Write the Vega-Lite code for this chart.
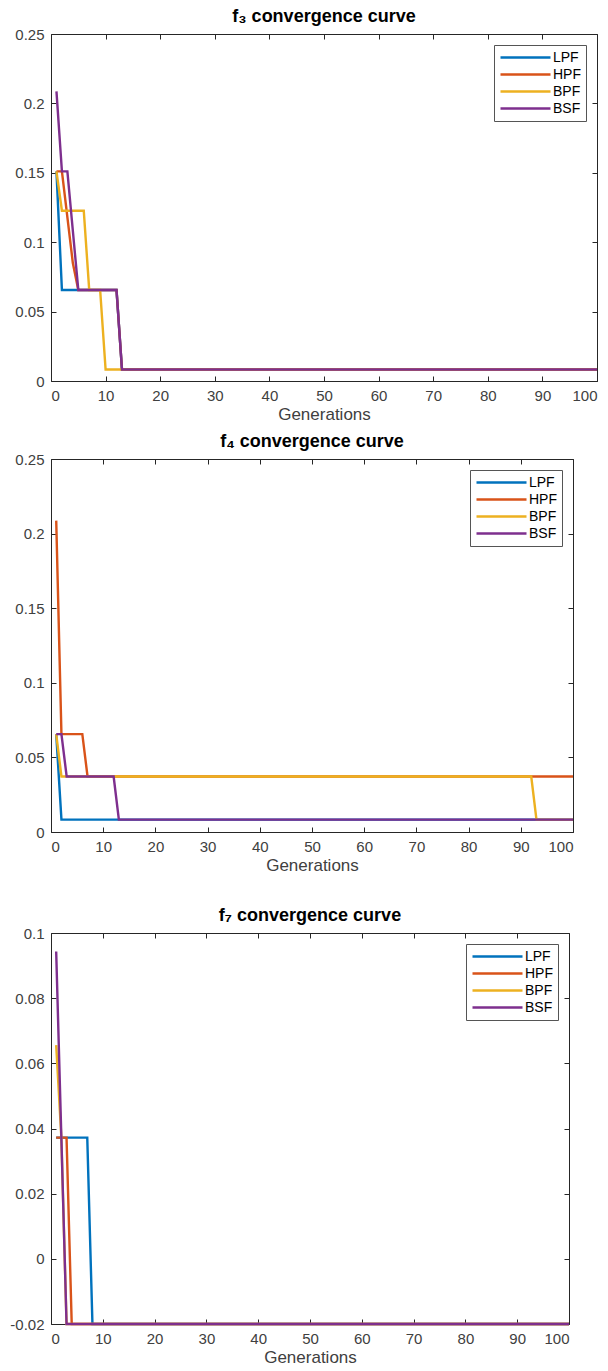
{
  "$schema": "https://vega.github.io/schema/vega-lite/v6.json",
  "padding": {"left": 9, "top": 7, "right": 5, "bottom": 0},
  "background": "white",
  "config": {
    "font": "Liberation Sans",
    "view": {"stroke": "#262626", "strokeWidth": 1},
    "axis": {"grid": false, "domain": false, "tickColor": "#262626", "tickSize": -5, "labelFont": "Liberation Sans", "labelFontSize": 15, "labelColor": "#404040", "labelPadding": 12, "titleFont": "Liberation Sans", "titleFontSize": 17, "titleFontWeight": "normal", "titleColor": "#404040", "titlePadding": 3},
    "axisY": {"minExtent": 40, "maxExtent": 40},
    "title": {"font": "Liberation Sans", "fontSize": 18, "fontWeight": "bold", "color": "#000000", "frame": "group", "offset": 1, "anchor": "middle"},
    "legend": {"orient": "top-right", "offset": 11, "strokeColor": "#555555", "fillColor": "white", "padding": 5, "symbolType": "stroke", "symbolSize": 2500, "symbolStrokeWidth": 2.5, "clipHeight": 15, "rowPadding": 2, "labelOffset": 1, "labelFont": "Liberation Sans", "labelFontSize": 14, "labelColor": "#000000", "title": null},
    "line": {"strokeWidth": 2.4}
  },
  "spacing": 32,
  "resolve": {"legend": {"color": "independent"}},
  "vconcat": [
    {
      "spacing": 9,
      "resolve": {"legend": {"color": "independent"}},
      "vconcat": [
        {
          "title": "f₃ convergence curve",
          "width": 546,
          "height": 347,
          "data": {"values": [
            {"gen": 1, "fitness": 0.151, "filter": "LPF"},
            {"gen": 2, "fitness": 0.0656, "filter": "LPF"},
            {"gen": 12, "fitness": 0.0656, "filter": "LPF"},
            {"gen": 13, "fitness": 0.0083, "filter": "LPF"},
            {"gen": 100, "fitness": 0.0083, "filter": "LPF"},
            {"gen": 1, "fitness": 0.151, "filter": "HPF"},
            {"gen": 2, "fitness": 0.151, "filter": "HPF"},
            {"gen": 4, "fitness": 0.085, "filter": "HPF"},
            {"gen": 5, "fitness": 0.0656, "filter": "HPF"},
            {"gen": 12, "fitness": 0.0656, "filter": "HPF"},
            {"gen": 13, "fitness": 0.0083, "filter": "HPF"},
            {"gen": 100, "fitness": 0.0083, "filter": "HPF"},
            {"gen": 1, "fitness": 0.151, "filter": "BPF"},
            {"gen": 2, "fitness": 0.1227, "filter": "BPF"},
            {"gen": 6, "fitness": 0.1227, "filter": "BPF"},
            {"gen": 7, "fitness": 0.0656, "filter": "BPF"},
            {"gen": 9, "fitness": 0.0656, "filter": "BPF"},
            {"gen": 10, "fitness": 0.0083, "filter": "BPF"},
            {"gen": 100, "fitness": 0.0083, "filter": "BPF"},
            {"gen": 1, "fitness": 0.2087, "filter": "BSF"},
            {"gen": 2, "fitness": 0.151, "filter": "BSF"},
            {"gen": 3, "fitness": 0.151, "filter": "BSF"},
            {"gen": 5, "fitness": 0.0656, "filter": "BSF"},
            {"gen": 12, "fitness": 0.0656, "filter": "BSF"},
            {"gen": 13, "fitness": 0.0083, "filter": "BSF"},
            {"gen": 100, "fitness": 0.0083, "filter": "BSF"}
          ]},
          "resolve": {"axis": {"x": "independent", "y": "independent"}},
          "layer": [
            {
              "mark": {"type": "line"},
              "encoding": {
                "x": {"field": "gen", "type": "quantitative", "scale": {"domain": [0, 100], "nice": false}, "axis": {"values": [0, 10, 20, 30, 40, 50, 60, 70, 80, 90, 100], "title": "Generations"}},
                "y": {"field": "fitness", "type": "quantitative", "scale": {"domain": [0, 0.25], "nice": false, "zero": false}, "axis": {"values": [0, 0.05, 0.1, 0.15, 0.2, 0.25], "title": null, "labelExpr": "'' + datum.value"}},
                "color": {"field": "filter", "type": "nominal", "sort": ["LPF", "HPF", "BPF", "BSF"], "scale": {"domain": ["LPF", "HPF", "BPF", "BSF"], "range": ["#0072BD", "#D95319", "#EDB120", "#7E2F8E"]}}
              }
            },
            {
              "mark": {"type": "line", "opacity": 0},
              "encoding": {
                "x": {"field": "gen", "type": "quantitative", "axis": {"orient": "top", "values": [0, 10, 20, 30, 40, 50, 60, 70, 80, 90, 100], "labels": false, "title": null, "minExtent": 0, "maxExtent": 0}},
                "y": {"field": "fitness", "type": "quantitative", "axis": {"orient": "right", "values": [0, 0.05, 0.1, 0.15, 0.2, 0.25], "labels": false, "title": null, "minExtent": 0, "maxExtent": 0}}
              }
            }
          ]
        },
        {
          "title": "f₄ convergence curve",
          "width": 522,
          "height": 373,
          "data": {"values": [
            {"gen": 1, "fitness": 0.0656, "filter": "LPF"},
            {"gen": 2, "fitness": 0.0083, "filter": "LPF"},
            {"gen": 100, "fitness": 0.0083, "filter": "LPF"},
            {"gen": 1, "fitness": 0.2087, "filter": "HPF"},
            {"gen": 2, "fitness": 0.0656, "filter": "HPF"},
            {"gen": 6, "fitness": 0.0656, "filter": "HPF"},
            {"gen": 7, "fitness": 0.0372, "filter": "HPF"},
            {"gen": 100, "fitness": 0.0372, "filter": "HPF"},
            {"gen": 1, "fitness": 0.0656, "filter": "BPF"},
            {"gen": 2, "fitness": 0.0372, "filter": "BPF"},
            {"gen": 92, "fitness": 0.0372, "filter": "BPF"},
            {"gen": 93, "fitness": 0.0083, "filter": "BPF"},
            {"gen": 100, "fitness": 0.0083, "filter": "BPF"},
            {"gen": 1, "fitness": 0.0656, "filter": "BSF"},
            {"gen": 2, "fitness": 0.0656, "filter": "BSF"},
            {"gen": 3, "fitness": 0.0372, "filter": "BSF"},
            {"gen": 12, "fitness": 0.0372, "filter": "BSF"},
            {"gen": 13, "fitness": 0.0083, "filter": "BSF"},
            {"gen": 100, "fitness": 0.0083, "filter": "BSF"}
          ]},
          "resolve": {"axis": {"x": "independent", "y": "independent"}},
          "layer": [
            {
              "mark": {"type": "line"},
              "encoding": {
                "x": {"field": "gen", "type": "quantitative", "scale": {"domain": [0, 100], "nice": false}, "axis": {"values": [0, 10, 20, 30, 40, 50, 60, 70, 80, 90, 100], "title": "Generations"}},
                "y": {"field": "fitness", "type": "quantitative", "scale": {"domain": [0, 0.25], "nice": false, "zero": false}, "axis": {"values": [0, 0.05, 0.1, 0.15, 0.2, 0.25], "title": null, "labelExpr": "'' + datum.value"}},
                "color": {"field": "filter", "type": "nominal", "sort": ["LPF", "HPF", "BPF", "BSF"], "scale": {"domain": ["LPF", "HPF", "BPF", "BSF"], "range": ["#0072BD", "#D95319", "#EDB120", "#7E2F8E"]}}
              }
            },
            {
              "mark": {"type": "line", "opacity": 0},
              "encoding": {
                "x": {"field": "gen", "type": "quantitative", "axis": {"orient": "top", "values": [0, 10, 20, 30, 40, 50, 60, 70, 80, 90, 100], "labels": false, "title": null, "minExtent": 0, "maxExtent": 0}},
                "y": {"field": "fitness", "type": "quantitative", "axis": {"orient": "right", "values": [0, 0.05, 0.1, 0.15, 0.2, 0.25], "labels": false, "title": null, "minExtent": 0, "maxExtent": 0}}
              }
            }
          ]
        }
      ]
    },
    {
      "title": "f₇ convergence curve",
      "width": 518,
      "height": 391,
      "data": {"values": [
        {"gen": 1, "fitness": 0.0372, "filter": "LPF"},
        {"gen": 7, "fitness": 0.0372, "filter": "LPF"},
        {"gen": 8, "fitness": -0.02, "filter": "LPF"},
        {"gen": 100, "fitness": -0.02, "filter": "LPF"},
        {"gen": 1, "fitness": 0.0372, "filter": "HPF"},
        {"gen": 3, "fitness": 0.0372, "filter": "HPF"},
        {"gen": 4, "fitness": -0.02, "filter": "HPF"},
        {"gen": 100, "fitness": -0.02, "filter": "HPF"},
        {"gen": 1, "fitness": 0.0656, "filter": "BPF"},
        {"gen": 2, "fitness": 0.0372, "filter": "BPF"},
        {"gen": 3, "fitness": -0.02, "filter": "BPF"},
        {"gen": 100, "fitness": -0.02, "filter": "BPF"},
        {"gen": 1, "fitness": 0.0943, "filter": "BSF"},
        {"gen": 2, "fitness": 0.0372, "filter": "BSF"},
        {"gen": 3, "fitness": -0.02, "filter": "BSF"},
        {"gen": 100, "fitness": -0.02, "filter": "BSF"}
      ]},
      "resolve": {"axis": {"x": "independent", "y": "independent"}},
      "layer": [
        {
          "mark": {"type": "line"},
          "encoding": {
            "x": {"field": "gen", "type": "quantitative", "scale": {"domain": [0, 100], "nice": false}, "axis": {"values": [0, 10, 20, 30, 40, 50, 60, 70, 80, 90, 100], "title": "Generations"}},
            "y": {"field": "fitness", "type": "quantitative", "scale": {"domain": [-0.02, 0.1], "nice": false, "zero": false}, "axis": {"values": [-0.02, 0, 0.02, 0.04, 0.06, 0.08, 0.1], "title": null, "labelExpr": "'' + datum.value"}},
            "color": {"field": "filter", "type": "nominal", "sort": ["LPF", "HPF", "BPF", "BSF"], "scale": {"domain": ["LPF", "HPF", "BPF", "BSF"], "range": ["#0072BD", "#D95319", "#EDB120", "#7E2F8E"]}}
          }
        },
        {
          "mark": {"type": "line", "opacity": 0},
          "encoding": {
            "x": {"field": "gen", "type": "quantitative", "axis": {"orient": "top", "values": [0, 10, 20, 30, 40, 50, 60, 70, 80, 90, 100], "labels": false, "title": null, "minExtent": 0, "maxExtent": 0}},
            "y": {"field": "fitness", "type": "quantitative", "axis": {"orient": "right", "values": [-0.02, 0, 0.02, 0.04, 0.06, 0.08, 0.1], "labels": false, "title": null, "minExtent": 0, "maxExtent": 0}}
          }
        }
      ]
    }
  ]
}
